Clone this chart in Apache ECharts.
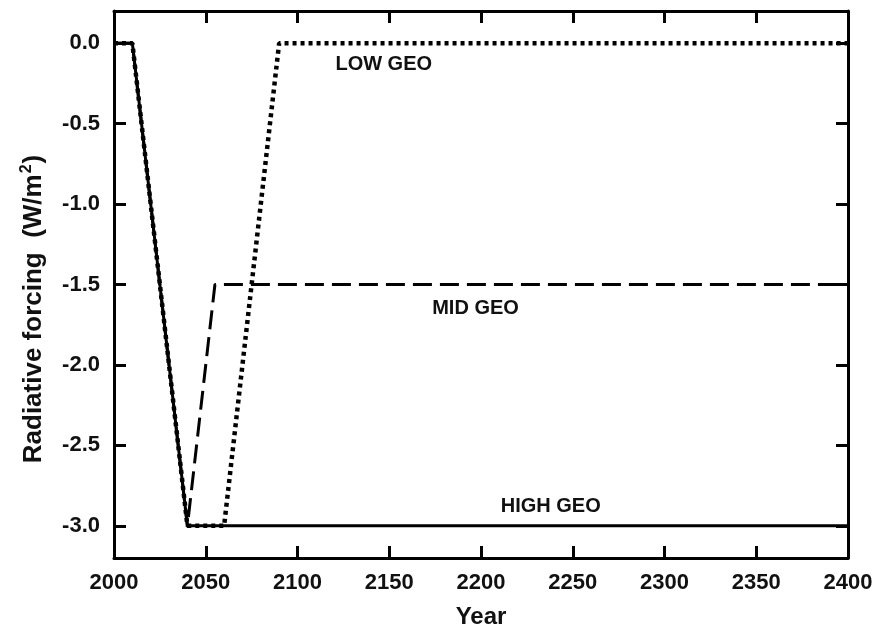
<!DOCTYPE html>
<html>
<head>
<meta charset="utf-8">
<script src="https://cdn.jsdelivr.net/npm/echarts@6/dist/echarts.min.js"></script>
<style>
html,body{margin:0;padding:0;background:#fff;}
#c{width:888px;height:639px;}
</style>
</head>
<body>
<div id="c"></div>
<script>
// Data
var lowYears  = [2000, 2010, 2040, 2060, 2090, 2400];
var lowVals   = [0, 0, -3, -3, 0, 0];
var midYears  = [2000, 2010, 2040, 2055, 2400];
var midVals   = [0, 0, -3, -1.5, -1.5];
var highYears = [2000, 2010, 2040, 2400];
var highVals  = [0, 0, -3, -3];
var xTicks = [2000, 2050, 2100, 2150, 2200, 2250, 2300, 2350, 2400];
var yTicks = [0, -0.5, -1.0, -1.5, -2.0, -2.5, -3.0];
var seriesNames = ['LOW GEO', 'MID GEO', 'HIGH GEO'];
var labelYears = [2147, 2197, 2238];
var labelVals = [-0.13, -1.65, -2.88];

function pairs(xs, ys){ return xs.map(function(x,i){ return [x, ys[i]]; }); }

var FONT = '"Liberation Sans", Arial, Helvetica, sans-serif';
var axisLine = {show: true, onZero: false, lineStyle: {color: '#000', width: 3}};
var tickStyle = {show: true, inside: true, length: 12, lineStyle: {color: '#000', width: 3}};

var chart = echarts.init(document.getElementById('c'), null, {renderer: 'canvas'});
var option = {
  animation: false,
  backgroundColor: '#fff',
  grid: {left: 114, right: 40, top: 11, bottom: 81, containLabel: false},
  xAxis: [
    {type: 'value', position: 'bottom', min: 2000, max: 2400, interval: 50,
     axisLine: axisLine,
     axisTick: Object.assign({}, tickStyle, {customValues: xTicks}),
     axisLabel: {show: true, margin: 14, color: '#111', fontFamily: FONT, fontWeight: 'bold', fontSize: 22,
                 customValues: xTicks, formatter: function(v){ return String(v); }},
     splitLine: {show: false}},
    {type: 'value', position: 'top', min: 2000, max: 2400, interval: 50,
     axisLine: axisLine,
     axisTick: Object.assign({}, tickStyle, {customValues: xTicks}),
     axisLabel: {show: false}, splitLine: {show: false}}
  ],
  yAxis: [
    {type: 'value', position: 'left', min: -3.2, max: 0.2,
     axisLine: axisLine,
     axisTick: Object.assign({}, tickStyle, {customValues: yTicks}),
     axisLabel: {show: true, margin: 14, color: '#111', fontFamily: FONT, fontWeight: 'bold', fontSize: 22,
                 customValues: yTicks, formatter: function(v){ return v.toFixed(1); }},
     splitLine: {show: false}},
    {type: 'value', position: 'right', min: -3.2, max: 0.2,
     axisLine: axisLine,
     axisTick: Object.assign({}, tickStyle, {customValues: yTicks}),
     axisLabel: {show: false}, splitLine: {show: false}}
  ],
  series: [
    {name: seriesNames[2], type: 'line', xAxisIndex: 0, yAxisIndex: 0, symbol: 'none',
     data: pairs(highYears, highVals),
     lineStyle: {color: '#000', width: 3, type: 'solid'}},
    {name: seriesNames[1], type: 'line', xAxisIndex: 0, yAxisIndex: 0, symbol: 'none',
     data: pairs(midYears, midVals),
     lineStyle: {color: '#000', width: 3, type: [19, 8]}},
    {name: seriesNames[0], type: 'line', xAxisIndex: 0, yAxisIndex: 0, symbol: 'none',
     data: pairs(lowYears, lowVals),
     lineStyle: {color: '#000', width: 4.5, type: [4, 4]}}
  ]
};
chart.setOption(option);

var graphics = [];
for (var i = 0; i < seriesNames.length; i++) {
  var p = chart.convertToPixel({gridIndex: 0}, [labelYears[i], labelVals[i]]);
  graphics.push({type: 'text', x: p[0], y: p[1], z: 100,
    style: {text: seriesNames[i], fill: '#111', font: 'bold 20px ' + FONT,
            textAlign: 'center', textVerticalAlign: 'middle'}});
}
graphics.push({type: 'text', x: 481, y: 617, z: 100,
  style: {text: 'Year', fill: '#111', font: 'bold 24px ' + FONT, textAlign: 'center', textVerticalAlign: 'middle'}});
graphics.push({type: 'text', x: 34, y: 309, rotation: Math.PI / 2, z: 100,
  style: {text: '{a|Radiative forcing  (W/m}{s|2}{a|)}', textAlign: 'center', textVerticalAlign: 'middle',
          rich: {
            a: {fontFamily: FONT, fontWeight: 'bold', fontSize: 26, fill: '#111', color: '#111', lineHeight: 30},
            s: {fontFamily: FONT, fontWeight: 'bold', fontSize: 16, fill: '#111', color: '#111', lineHeight: 30, padding: [0, 1, 14, 1]}
          }}});
chart.setOption({graphic: graphics});
</script>
</body>
</html>
